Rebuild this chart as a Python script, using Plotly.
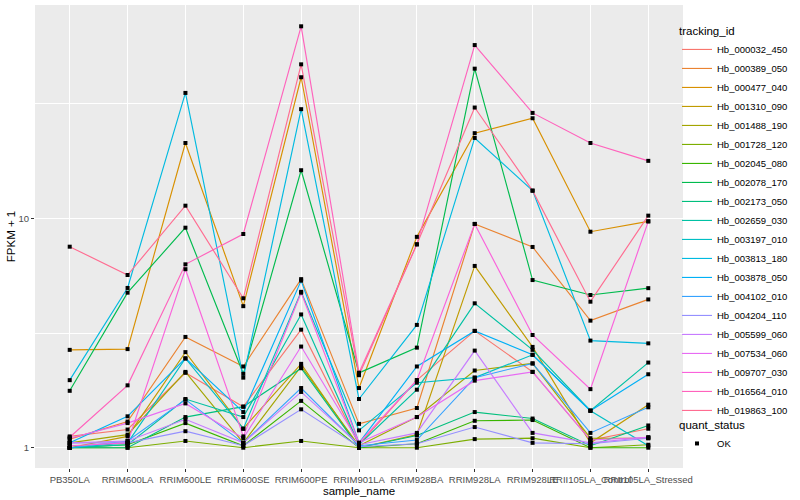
import plotly.graph_objects as go

samples = ["PB350LA", "RRIM600LA", "RRIM600LE", "RRIM600SE", "RRIM600PE", "RRIM901LA",
           "RRIM928BA", "RRIM928LA", "RRIM928LE", "RRII105LA_Control", "RRII105LA_Stressed"]

tracking_ids = ["Hb_000032_450", "Hb_000389_050", "Hb_000477_040", "Hb_001310_090",
                "Hb_001488_190", "Hb_001728_120", "Hb_002045_080", "Hb_002078_170",
                "Hb_002173_050", "Hb_002659_030", "Hb_003197_010", "Hb_003813_180",
                "Hb_003878_050", "Hb_004102_010", "Hb_004204_110", "Hb_005599_060",
                "Hb_007534_060", "Hb_009707_030", "Hb_016564_010", "Hb_019863_100"]

colors = ["#F8766D", "#EA8331", "#D89000", "#C09B00", "#A3A500", "#7CAE00", "#39B600",
          "#00BB4E", "#00BF7D", "#00C1A3", "#00BFC4", "#00BAE0", "#00B0F6", "#35A2FF",
          "#9590FF", "#C77CFF", "#E76BF3", "#FA62DB", "#FF62BC", "#FF6C91"]

# FPKM + 1 values, one list per tracking_id, in sample order
Hb_000032_450 = [1.12, 1.20, 2.12, 1.51, 3.27, 1.03, 1.97, 3.23, 2.14, 1.08, 1.21]
Hb_000389_050 = [1.09, 1.30, 3.04, 2.26, 5.43, 1.27, 1.49, 9.45, 7.50, 3.58, 4.43]
Hb_000477_040 = [2.67, 2.69, 21.3, 4.14, 41.2, 1.82, 8.30, 23.5, 27.3, 8.74, 9.70]
Hb_001310_090 = [1.00, 1.12, 2.61, 1.21, 2.32, 1.00, 1.14, 6.20, 2.75, 1.05, 1.54]
Hb_001488_190 = [1.05, 1.14, 2.14, 1.05, 2.26, 1.02, 1.36, 2.17, 2.33, 1.10, 1.10]
Hb_001728_120 = [1.00, 1.00, 1.07, 1.00, 1.07, 1.00, 1.00, 1.09, 1.10, 1.00, 1.03]
Hb_002045_080 = [1.00, 1.03, 1.28, 1.02, 1.60, 1.00, 1.04, 1.31, 1.32, 1.00, 1.00]
Hb_002078_170 = [1.77, 4.74, 9.10, 2.10, 16.2, 2.12, 2.73, 44.9, 5.38, 4.63, 4.96]
Hb_002173_050 = [1.00, 1.00, 1.36, 1.51, 2.22, 1.00, 1.13, 1.43, 1.34, 1.02, 1.25]
Hb_002659_030 = [1.00, 1.03, 1.63, 1.36, 3.81, 1.03, 1.79, 4.26, 2.67, 1.45, 2.35]
Hb_003197_010 = [1.00, 1.05, 2.45, 1.21, 4.78, 1.19, 1.92, 2.02, 2.54, 1.45, 1.02]
Hb_003813_180 = [1.97, 4.97, 35.2, 2.02, 29.9, 1.63, 3.43, 22.4, 13.2, 2.93, 2.85]
Hb_003878_050 = [1.05, 1.37, 2.45, 1.43, 5.35, 1.05, 2.26, 3.23, 2.54, 1.45, 2.09]
Hb_004102_010 = [1.00, 1.07, 1.62, 1.05, 1.82, 1.02, 1.08, 2.02, 2.33, 1.16, 1.50]
Hb_004204_110 = [1.05, 1.05, 1.18, 1.02, 1.47, 1.01, 1.04, 1.23, 1.05, 1.04, 1.10]
Hb_005599_060 = [1.05, 1.07, 1.33, 1.05, 1.75, 1.03, 1.16, 2.65, 1.16, 1.05, 1.11]
Hb_007534_060 = [1.10, 1.28, 1.56, 1.10, 2.76, 1.05, 1.36, 1.96, 2.14, 1.08, 1.11]
Hb_009707_030 = [1.02, 1.05, 6.00, 1.12, 4.74, 1.05, 1.97, 9.45, 3.10, 1.80, 9.70]
Hb_016564_010 = [1.11, 1.87, 6.30, 8.54, 68.7, 2.12, 7.70, 56.9, 28.8, 21.3, 17.8]
Hb_019863_100 = [7.52, 5.66, 11.35, 4.48, 46.9, 2.07, 7.70, 30.4, 13.2, 4.33, 10.27]

series = [Hb_000032_450, Hb_000389_050, Hb_000477_040, Hb_001310_090, Hb_001488_190,
          Hb_001728_120, Hb_002045_080, Hb_002078_170, Hb_002173_050, Hb_002659_030,
          Hb_003197_010, Hb_003813_180, Hb_003878_050, Hb_004102_010, Hb_004204_110,
          Hb_005599_060, Hb_007534_060, Hb_009707_030, Hb_016564_010, Hb_019863_100]

y_ticks = [1, 10]
y_minor = [3.1623, 31.623]

FONT = "Liberation Sans, Arial, sans-serif"

fig = go.Figure()
for name, col, vals in zip(tracking_ids, colors, series):
    fig.add_trace(go.Scatter(x=samples, y=vals, mode="lines", name=name,
                             line=dict(color=col, width=1.15), legend="legend",
                             hoverinfo="skip"))

all_x, all_y = [], []
for vals in series:
    all_x += samples
    all_y += vals
fig.add_trace(go.Scatter(x=all_x, y=all_y, mode="markers", name="OK",
                         marker=dict(symbol="square", size=4, color="black"),
                         legend="legend2"))

fig.update_layout(
    width=800, height=500,
    margin=dict(l=35, r=117, t=5, b=32, autoexpand=False),
    paper_bgcolor="white", plot_bgcolor="#EBEBEB",
    font=dict(family=FONT, size=9, color="black"),
    xaxis=dict(type="category", categoryorder="array", categoryarray=samples,
               range=[-0.6, 10.6], showgrid=True, gridcolor="white", gridwidth=1.1,
               ticks="outside", ticklen=3, tickcolor="#333333", tickangle=0,
               tickfont=dict(size=9.5, color="#4D4D4D"), zeroline=False,
               title=dict(text="sample_name", font=dict(size=11.5, color="black"), standoff=2)),
    yaxis=dict(type="log", range=[-0.0885, 1.9298], tickvals=y_ticks,
               ticktext=[str(t) for t in y_ticks], showgrid=True, gridcolor="white",
               gridwidth=1.1, ticks="outside", ticklen=3, tickcolor="#333333",
               tickfont=dict(size=9.5, color="#4D4D4D"), zeroline=False,
               minor=dict(tickvals=y_minor, showgrid=True, gridcolor="white",
                          gridwidth=0.55, ticklen=0),
               title=dict(text="FPKM + 1", font=dict(size=11.5, color="black"), standoff=0)),
    legend=dict(title=dict(text="tracking_id", font=dict(size=11.5)),
                x=(677 - 35) / 648, xanchor="left", y=(468 - 20) / 463, yanchor="top",
                font=dict(size=9.5), tracegroupgap=0, itemwidth=30,
                bgcolor="rgba(0,0,0,0)"),
    legend2=dict(title=dict(text="quant_status", font=dict(size=11.5)),
                 x=(677 - 35) / 648, xanchor="left", y=(468 - 414) / 463, yanchor="top",
                 font=dict(size=9.5), itemwidth=30, bgcolor="rgba(0,0,0,0)"),
    showlegend=True,
)

fig.write_html("out.html", config={"displayModeBar": False},
               post_script="document.body.style.margin='0px';document.body.style.overflow='hidden';")
